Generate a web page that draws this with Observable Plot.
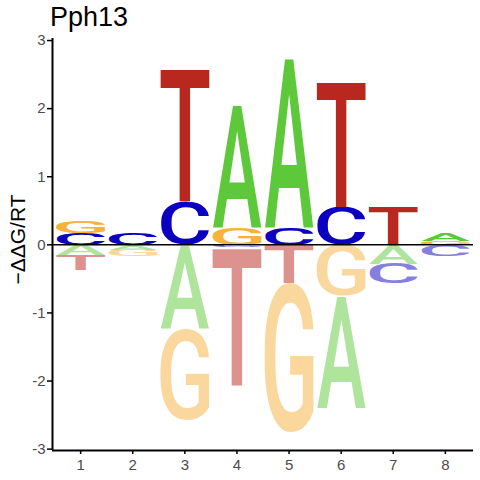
<!DOCTYPE html>
<html><head><meta charset="utf-8">
<script src="https://cdn.jsdelivr.net/npm/d3@7"></script>
<script src="https://cdn.jsdelivr.net/npm/@observablehq/plot@0.6"></script>
<style>
body{margin:0;background:#fff;}
#wrap{position:relative;width:480px;height:480px;font-family:"Liberation Sans",Arial,sans-serif;}
#title{position:absolute;left:50px;top:4px;font-size:27px;line-height:27px;color:#000;white-space:nowrap;}
#ylab{position:absolute;left:-83px;top:229px;width:200px;text-align:center;font-size:21px;line-height:21px;color:#000;transform:rotate(-90deg);white-space:nowrap;}
#wrap svg{position:absolute;left:0;top:0;}
</style>
</head><body>
<div id="wrap">
  <div id="title">Pph13</div>
  <div id="ylab">−ΔΔG/RT</div>
</div>
<script>
// positions and bases
const positions = [1, 2, 3, 4, 5, 6, 7, 8];
const bases = ["A", "C", "G", "T"];
const baseColors = ["#5DC93A", "#0C00C0", "#F5B23C", "#B9281E"];
// contributions above zero (per position)
const upA = [0, 0, 0, 1.80, 2.50, 0, 0, 0.11];
const upC = [0.17, 0.17, 0.64, 0, 0.26, 0.56, 0, 0];
const upG = [0.18, 0, 0, 0.26, 0, 0, 0, 0.06];
const upT = [0, 0, 1.94, 0, 0, 1.84, 0.57, 0];
// contributions below zero (magnitudes)
const dnA = [0.15, 0.08, 1.24, 0, 0, 1.65, 0.28, 0];
const dnC = [0, 0, 0, 0.03, 0, 0, 0.29, 0.16];
const dnG = [0, 0.09, 1.34, 0, 2.19, 0.75, 0, 0];
const dnT = [0.22, 0, 0, 2.03, 0.56, 0, 0, 0];
const yTicks = [-3, -2, -1, 0, 1, 2, 3];
const xDomain = [0.46, 8.54];
const yDomain = [-3.02, 3.03];

const up = [upA, upC, upG, upT];
const dn = [dnA, dnC, dnG, dnT];
const rows = [];
positions.forEach((p, i) => {
  const u = bases.map((b, k) => ({b, k, v: up[k][i]})).filter(d => d.v > 0).sort((a, c) => a.v - c.v);
  let acc = 0;
  for (const d of u) { rows.push({pos: p, letter: d.b, color: baseColors[d.k], neg: false, y1: acc, y2: acc + d.v}); acc += d.v; }
  const n = bases.map((b, k) => ({b, k, v: dn[k][i]})).filter(d => d.v > 0).sort((a, c) => a.v - c.v);
  acc = 0;
  for (const d of n) { rows.push({pos: p, letter: d.b, color: baseColors[d.k], neg: true, y1: acc - d.v, y2: acc}); acc -= d.v; }
});

const half = 0.47;
const FONT_FAMILY = "Roboto";
const FONT_WEIGHT = 500;
const TICK_FONT = 15;

const chart = Plot.plot({
  width: 480, height: 480,
  marginLeft: 52, marginRight: 7, marginTop: 38, marginBottom: 30,
  style: {fontFamily: "Liberation Sans, Arial, sans-serif", fontSize: TICK_FONT + "px", background: "transparent"},
  x: {domain: xDomain, axis: null},
  y: {domain: yDomain, axis: null},
  marks: [
    Plot.text(rows, {
      x: "pos", y: d => (d.y1 + d.y2) / 2, text: "letter",
      fill: d => d.color, fillOpacity: d => d.neg ? 0.5 : 1,
      fontSize: 100, fontFamily: FONT_FAMILY, fontWeight: FONT_WEIGHT
    }),
    Plot.ruleY([0], {stroke: "black", strokeWidth: 1.5}),
    Plot.ruleX([xDomain[0]], {stroke: "black", strokeWidth: 2}),
    Plot.ruleY([yDomain[0]], {stroke: "black", strokeWidth: 2}),
    Plot.axisY({ticks: yTicks, tickSize: 5, tickPadding: 2, fontSize: TICK_FONT, tickFormat: d => String(d), label: null, stroke: "black", fill: "#4D4D4D", strokeWidth: 1.5}),
    Plot.axisX({ticks: positions, tickSize: 4, tickPadding: 5, fontSize: TICK_FONT, tickFormat: d => String(d), label: null, stroke: "black", fill: "#4D4D4D", strokeWidth: 1.5})
  ]
});
document.getElementById("wrap").appendChild(chart);

// stretch each letter to fill its stacked rectangle (computed via the plot's scales)
const xs = chart.scale("x"), ys = chart.scale("y");
const ctx = document.createElement("canvas").getContext("2d");
ctx.font = `${FONT_WEIGHT} 100px ${FONT_FAMILY}`;
const g = chart.querySelector('g[aria-label="text"]');
const texts = Array.from(g.querySelectorAll("text"));
texts.forEach((t, i) => {
  const d = rows[i];
  const m = ctx.measureText(d.letter);
  const L = m.actualBoundingBoxLeft, R = m.actualBoundingBoxRight;
  const A = m.actualBoundingBoxAscent, D = m.actualBoundingBoxDescent;
  const X1 = xs.apply(d.pos - half), X2 = xs.apply(d.pos + half);
  const Yt = ys.apply(d.y2), Yb = ys.apply(d.y1);
  const sx = (X2 - X1) / (L + R), sy = (Yb - Yt) / (A + D);
  t.removeAttribute("x"); t.removeAttribute("y"); t.removeAttribute("dy");
  t.setAttribute("text-anchor", "start");
  t.setAttribute("transform", `translate(${X1 + L * sx},${Yt + A * sy}) scale(${sx},${sy})`);
});
// axis tick labels: size, font and colour
chart.querySelectorAll("text").forEach(t => {
  if (texts.includes(t)) return;
  t.setAttribute("font-size", TICK_FONT);
  t.style.fontSize = TICK_FONT + "px";
  t.style.fontFamily = '"Liberation Sans", Arial, sans-serif';
  t.style.fill = "#4D4D4D";
});
</script>
</body></html>
